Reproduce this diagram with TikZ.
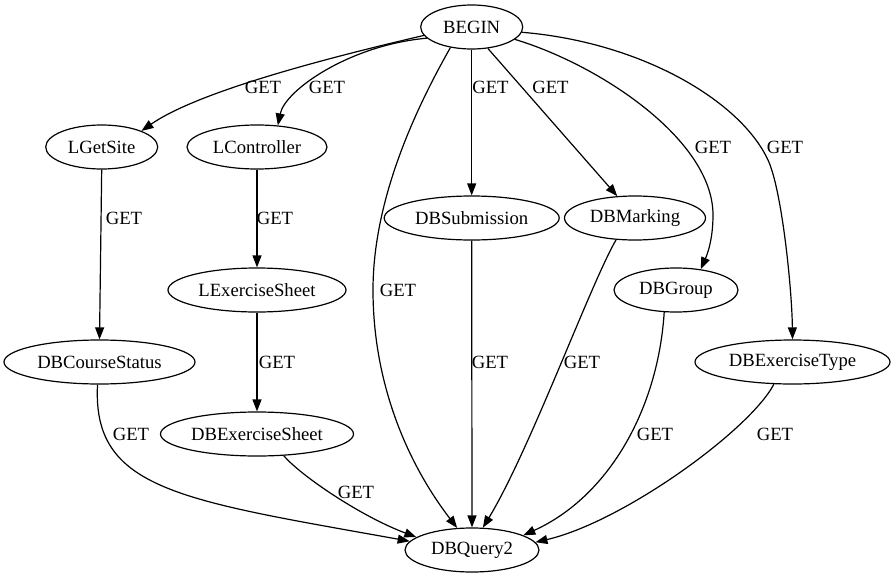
\documentclass[tikz,border=0pt]{standalone}
\usepackage{fontspec}
\setmainfont{Liberation Serif}
\usetikzlibrary{shapes.geometric,arrows.meta}
\begin{document}
\begin{tikzpicture}[x=1pt,y=-1pt,
  nd/.style={draw,ellipse,line width=1.2pt,inner sep=0pt,minimum height=44pt,font=\fontsize{18.67}{22}\selectfont},
  ed/.style={draw,line width=1.2pt,-{Triangle[length=12pt,width=9pt]}},
  lb/.style={font=\fontsize{18.67}{22}\selectfont,inner sep=0pt}]
\useasboundingbox[fill=white] (0,0) rectangle (895,581);
% nodes
\node[nd,minimum width=102pt] (BEGIN) at (471.7,27) {BEGIN};
\node[nd,minimum width=112pt] (LGetSite) at (101.7,147) {LGetSite};
\node[nd,minimum width=140pt] (LController) at (257,147) {LController};
\node[nd,minimum width=175pt] (DBSubmission) at (471.7,218) {DBSubmission};
\node[nd,minimum width=141pt] (DBMarking) at (635,218) {DBMarking};
\node[nd,minimum width=124pt] (DBGroup) at (676,290) {DBGroup};
\node[nd,minimum width=178pt] (LExerciseSheet) at (257,290) {LExerciseSheet};
\node[nd,minimum width=191pt] (DBCourseStatus) at (99.5,362) {DBCourseStatus};
\node[nd,minimum width=195pt] (DBExerciseType) at (792.5,362) {DBExerciseType};
\node[nd,minimum width=193pt] (DBExerciseSheet) at (257,434) {DBExerciseSheet};
\node[nd,minimum width=134pt] (DBQuery2) at (472,550) {DBQuery2};
% edges
\draw[ed] (BEGIN.190) .. controls (340,55) and (200,90) .. (LGetSite.22);
\draw[ed] (BEGIN.194) .. controls (350,45) and (285,90) .. (LController.46);
\draw[ed] (BEGIN.224) .. controls (415,110) and (373,200) .. (373,290) .. controls (373,380) and (405,460) .. (DBQuery2.124);
\draw[ed] (BEGIN.south) -- (DBSubmission.north);
\draw[ed] (BEGIN.307) -- (DBMarking.129);
\draw[ed] (BEGIN.344) .. controls (600,65) and (713,140) .. (713,215) .. controls (713,240) and (707,255) .. (DBGroup.40);
\draw[ed] (BEGIN.354) .. controls (640,42) and (740,100) .. (768,160) .. controls (782,190) and (792,290) .. (DBExerciseType.north);
\draw[ed] (LGetSite.south) -- (DBCourseStatus.north);
\draw[ed] (LController.south) -- (LExerciseSheet.north);
\draw[ed] (LExerciseSheet.south) -- (DBExerciseSheet.north);
\draw[ed] (DBSubmission.south) -- (DBQuery2.north);
\draw[ed] (DBMarking.229) .. controls (590,285) and (530,450) .. (DBQuery2.64);
\draw[ed] (DBGroup.242) .. controls (658,410) and (608,497) .. (DBQuery2.16);
\draw[ed] (DBExerciseType.230) .. controls (750,430) and (623,522) .. (DBQuery2.7);
\draw[ed] (DBCourseStatus.265) .. controls (92,490) and (180,500) .. (DBQuery2.172);
\draw[ed] (DBExerciseSheet.321) .. controls (300,475) and (360,516) .. (DBQuery2.167);
% labels
\node[lb] (l1) at (263,87) {GET};
\node[lb] (l2) at (327,87) {GET};
\node[lb] (l3) at (398,290) {GET};
\node[lb] (l4) at (490.5,87) {GET};
\node[lb] (l5) at (550.5,87) {GET};
\node[lb] (l6) at (713,147) {GET};
\node[lb] (l7) at (785,147) {GET};
\node[lb] (l8) at (124,218) {GET};
\node[lb] (l9) at (275,218) {GET};
\node[lb] (l10) at (277,362) {GET};
\node[lb] (l11) at (490,362) {GET};
\node[lb] (l12) at (582,362) {GET};
\node[lb] (l13) at (655,434) {GET};
\node[lb] (l14) at (775,434) {GET};
\node[lb] (l15) at (131,434) {GET};
\node[lb] (l16) at (356,492) {GET};
\end{tikzpicture}
\end{document}
